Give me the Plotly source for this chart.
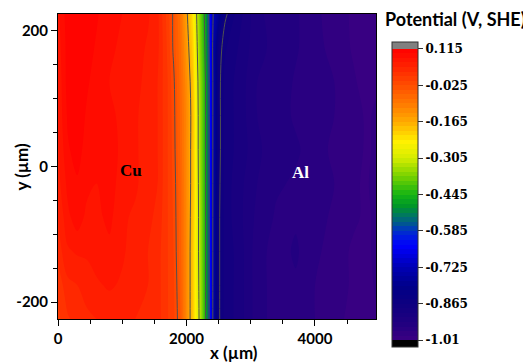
import plotly.graph_objects as go

# ---------------- data ----------------
x_um = [0, 150, 300, 450, 600, 800, 1000, 1200, 1400, 1550, 1700, 1800, 1900, 2000, 2100,
        2200, 2300, 2400, 2500, 2600, 2800, 3100, 3400, 3700, 4000, 4300, 4600, 4800, 4950]
y_um = [-225, -175, -125, -75, -25, 25, 75, 125, 175, 225]

# potential (V vs SHE), one list per y row
pot_y_m225 = [0.005, 0.025, 0.035, 0.04, 0.045, 0.05, 0.055, 0.045, 0.04, 0.035, 0.012, -0.003, -0.04, -0.12, -0.2,
              -0.31, -0.45, -0.71, -0.86, -0.89, -0.905, -0.945, -0.96, -0.96, -0.97, -0.985, -0.99, -0.995, -0.99]
pot_y_m175 = [0.015, 0.04, 0.045, 0.055, 0.06, 0.065, 0.06, 0.055, 0.045, 0.035, 0.012, -0.005, -0.045, -0.12, -0.2,
              -0.315, -0.45, -0.71, -0.86, -0.89, -0.905, -0.945, -0.96, -0.955, -0.97, -0.98, -0.99, -0.995, -0.985]
pot_y_m125 = [0.035, 0.06, 0.065, 0.065, 0.07, 0.075, 0.065, 0.055, 0.045, 0.035, 0.012, -0.008, -0.05, -0.12, -0.2,
              -0.32, -0.45, -0.71, -0.86, -0.89, -0.905, -0.945, -0.96, -0.95, -0.965, -0.98, -0.99, -0.99, -0.985]
pot_y_m75 = [0.045, 0.075, 0.09, 0.075, 0.075, 0.085, 0.065, 0.06, 0.05, 0.04, 0.012, -0.01, -0.052, -0.12, -0.195,
             -0.32, -0.45, -0.71, -0.86, -0.89, -0.91, -0.94, -0.955, -0.955, -0.96, -0.975, -0.985, -0.99, -0.985]
pot_y_m25 = [0.055, 0.085, 0.095, 0.085, 0.08, 0.09, 0.07, 0.065, 0.055, 0.045, 0.012, -0.012, -0.055, -0.12, -0.19,
             -0.325, -0.45, -0.71, -0.858, -0.89, -0.91, -0.935, -0.95, -0.955, -0.965, -0.97, -0.985, -0.99, -0.98]
pot_y_p25 = [0.06, 0.095, 0.105, 0.09, 0.085, 0.09, 0.075, 0.065, 0.055, 0.045, 0.012, -0.015, -0.06, -0.12, -0.19,
             -0.33, -0.45, -0.71, -0.855, -0.89, -0.905, -0.93, -0.95, -0.95, -0.96, -0.975, -0.98, -0.99, -0.985]
pot_y_p75 = [0.065, 0.1, 0.108, 0.095, 0.085, 0.085, 0.075, 0.065, 0.055, 0.045, 0.012, -0.017, -0.062, -0.118, -0.188,
             -0.33, -0.45, -0.71, -0.855, -0.89, -0.905, -0.935, -0.945, -0.955, -0.955, -0.97, -0.98, -0.99, -0.985]
pot_y_p125 = [0.065, 0.105, 0.11, 0.1, 0.09, 0.08, 0.075, 0.065, 0.06, 0.045, 0.012, -0.02, -0.065, -0.125, -0.195,
              -0.335, -0.45, -0.71, -0.855, -0.89, -0.905, -0.935, -0.94, -0.955, -0.96, -0.97, -0.985, -0.995, -0.99]
pot_y_p175 = [0.07, 0.105, 0.11, 0.105, 0.095, 0.085, 0.075, 0.07, 0.06, 0.05, 0.008, -0.03, -0.07, -0.14, -0.21,
              -0.35, -0.46, -0.715, -0.85, -0.88, -0.9, -0.93, -0.94, -0.95, -0.965, -0.975, -0.99, -0.995, -0.99]
pot_y_p225 = [0.075, 0.108, 0.11, 0.108, 0.1, 0.085, 0.08, 0.075, 0.065, 0.05, 0.003, -0.03, -0.08, -0.155, -0.23,
              -0.36, -0.47, -0.715, -0.78, -0.86, -0.89, -0.93, -0.945, -0.95, -0.965, -0.98, -0.99, -0.995, -0.99]

potential = [pot_y_m225, pot_y_m175, pot_y_m125, pot_y_m75, pot_y_m25,
             pot_y_p25, pot_y_p75, pot_y_p125, pot_y_p175, pot_y_p225]

x_tickvals = [0, 2000, 4000]
x_ticktext = ["0", "2000", "4000"]
y_tickvals = [-200, 0, 200]
y_ticktext = ["-200", "0", "200"]

cb_tickvals = [0.115, -0.025, -0.165, -0.305, -0.445, -0.585, -0.725, -0.865, -1.005]
cb_ticktext = ["0.115", "-0.025", "-0.165", "-0.305", "-0.445", "-0.585", "-0.725", "-0.865", "-1.01"]

# ---------------- colour scale ----------------
step = 0.0175
c_start = -1.005 - step
c_end = 0.115 + step
dmin = c_start - step / 2
dmax = c_end + step / 2

anchor_vals = [-1.0, -0.94, -0.865, -0.80, -0.725, -0.64, -0.585, -0.555, -0.525, -0.49, -0.445,
               -0.375, -0.305, -0.245, -0.165, -0.095, -0.025, 0.06, 0.115]
anchor_cols = ["#3a0082", "#200080", "#0e0080", "#000088", "#0000b4", "#0000ff", "#0032c8", "#005a8c",
               "#007860", "#009628", "#14b414", "#78d200", "#d4ec00", "#fff200", "#ffaa00", "#ff7800",
               "#ff4d00", "#ff1a00", "#ff0000"]


def s(v):
    return (v - dmin) / (dmax - dmin)


colorscale = [[0.0, "#000000"], [s(-1.01), "#000000"]]
for v, c in zip(anchor_vals, anchor_cols):
    colorscale.append([s(v), c])
colorscale += [[s(0.12), "#808080"], [1.0, "#808080"]]

fig = go.Figure()
fig.add_trace(go.Contour(
    x=x_um, y=y_um, z=potential,
    colorscale=colorscale,
    autocontour=False,
    contours=dict(start=c_start, end=c_end, size=step, coloring="fill", showlines=False),
    line=dict(width=0),
    colorbar=dict(
        x=1.05, xanchor="left", xpad=0,
        y=0.408, yanchor="middle", ypad=0,
        lenmode="pixels", len=305, thickness=26,
        outlinecolor="#333333", outlinewidth=1,
        tickmode="array", tickvals=cb_tickvals, ticktext=cb_ticktext,
        ticks="outside", ticklen=5, tickcolor="#333333",
        tickfont=dict(family="DejaVu Serif", size=12, color="#000000", weight="bold"),
    ),
    hoverinfo="skip",
))
fig.add_trace(go.Contour(
    x=x_um, y=y_um, z=potential,
    autocontour=False,
    contours=dict(start=-0.865, end=-0.025, size=0.14, coloring="none", showlines=True),
    line=dict(color="#505050", width=1),
    showscale=False,
    hoverinfo="skip",
))

axis_font = dict(family="Lato", size=15, color="#000000", weight="bold")
fig.update_xaxes(
    range=[0, 4950], tickmode="array", tickvals=x_tickvals, ticktext=x_ticktext,
    ticks="outside", ticklen=6, tickcolor="#000",
    minor=dict(dtick=500, tick0=0, ticks="outside", ticklen=4, tickcolor="#000"),
    showline=True, linecolor="#000", linewidth=1, mirror=True, automargin=False,
    showgrid=False, zeroline=False, tickfont=axis_font,
)
fig.update_yaxes(
    range=[-225, 225], tickmode="array", tickvals=y_tickvals, ticktext=y_ticktext,
    ticks="outside", ticklen=6, tickcolor="#000",
    minor=dict(dtick=50, tick0=0, ticks="outside", ticklen=4, tickcolor="#000"),
    showline=True, linecolor="#000", linewidth=1, mirror=True, automargin=False,
    showgrid=False, zeroline=False, tickfont=axis_font,
)

# the page body has an 8px margin, so the figure is 8px smaller and the margins account for it
fig.update_layout(
    width=523, height=355,
    margin=dict(l=50, r=155, t=6, b=44, autoexpand=False),
    paper_bgcolor="white", plot_bgcolor="white",
    showlegend=False,
    annotations=[
        dict(text="Cu", x=1131, y=-6, xref="x", yref="y", showarrow=False,
             font=dict(family="Liberation Serif", size=17, color="#000000", weight="bold")),
        dict(text="Al", x=3776, y=-9, xref="x", yref="y", showarrow=False,
             font=dict(family="Liberation Serif", size=17, color="#ffffff", weight="bold")),
        dict(text="x (µm)", x=0.553, y=0, xref="paper", yref="paper", yanchor="top", yshift=-21,
             showarrow=False, font=dict(family="Lato", size=17, color="#000000", weight="bold")),
        dict(text="y (µm)", x=0, y=0.5, xref="paper", yref="paper", xanchor="center", xshift=-37,
             textangle=-90, showarrow=False,
             font=dict(family="Lato", size=17, color="#000000", weight="bold")),
        dict(text="Potential (V, SHE)", x=1.25, y=0.984, xref="paper", yref="paper",
             xanchor="center", yanchor="middle", showarrow=False,
             font=dict(family="Lato", size=18, color="#000000", weight="bold")),
    ],
)

fig.write_html("out.html")
